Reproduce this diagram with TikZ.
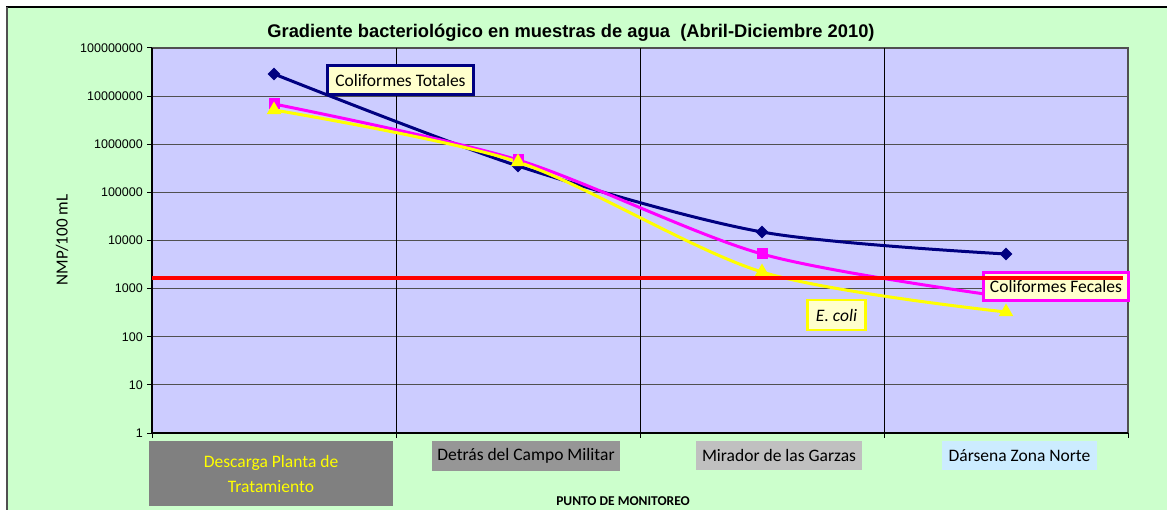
\documentclass[tikz,border=0pt]{standalone}
\usepackage{fontspec}
\setmainfont{Liberation Sans}
\newfontfamily\calibri{Carlito}
\usetikzlibrary{shapes.geometric}
\definecolor{bggreen}{HTML}{CCFFCC}
\definecolor{plotblue}{HTML}{CCCCFF}
\definecolor{navyc}{HTML}{000080}
\definecolor{magc}{HTML}{FF00FF}
\definecolor{yelc}{HTML}{FFFF00}
\definecolor{redc}{HTML}{FF0000}
\definecolor{lblyellow}{HTML}{FFFFCC}
\definecolor{gridgray}{HTML}{505050}
\definecolor{catA}{HTML}{808080}
\definecolor{catB}{HTML}{969696}
\definecolor{catC}{HTML}{C0C0C0}
\definecolor{catD}{HTML}{CCECFF}
\begin{document}
\begin{tikzpicture}[x=1pt,y=-1pt,
  hgrid/.style={gridgray, line width=1.2pt},
  vgrid/.style={black, line width=0.9pt},
  ylab/.style={anchor=east, inner sep=0pt, font=\fontsize{12.5}{14}\selectfont},
  series/.style={line width=3pt, smooth, tension=0.5},
  dmk/.style={diamond, fill=navyc, inner sep=0pt, minimum width=13pt, minimum height=13pt},
  smk/.style={rectangle, fill=magc, inner sep=0pt, minimum size=11pt},
  tmk/.style={regular polygon, regular polygon sides=3, fill=yelc, inner sep=0pt, minimum size=17pt},
  lbl/.style={fill=lblyellow, line width=2.6pt, inner sep=0pt, font=\calibri\fontsize{17.5}{20}\selectfont},
  cat/.style={inner sep=0pt, font=\calibri\fontsize{17.5}{25}\selectfont, align=center}
]
\useasboundingbox (0,0) rectangle (1167,510);
\fill[white] (0,0) rectangle (1167,510);
\fill[bggreen] (7,7) rectangle (1167,510);
\draw[black, line width=1.6pt] (6,7) -- (1167,7);
\draw[gridgray, line width=2pt] (7,7) -- (7,510);
% title
\node[font=\bfseries\fontsize{18.3}{21}\selectfont] (title) at (571,33) {Gradiente bacteriológico en muestras de agua \ (Abril-Diciembre 2010)};
% plot area
\fill[plotblue] (152,48) rectangle (1128,433);
\foreach \i in {1,...,7} \draw[hgrid] (152,{433-48.125*\i}) -- (1128,{433-48.125*\i});
\draw[hgrid] (152,48) -- (1128,48) -- (1128,433);
\foreach \x in {396,640,884} \draw[vgrid] (\x,48) -- (\x,433);
\draw[black, line width=1.2pt] (152,48) -- (152,433) -- (1128,433);
\foreach \i in {0,...,8} \draw[black, line width=1pt] (147,{433-48.125*\i}) -- (152,{433-48.125*\i});
\foreach \x in {152,396,640,884,1128} \draw[black, line width=1pt] (\x,433) -- (\x,438);
\foreach \v [count=\i from 0] in {1,10,100,1000,10000,100000,1000000,10000000,100000000}
  \node[ylab] (y\i) at (143,{433-48.125*\i}) {\v};
\node[rotate=90, font=\calibri\fontsize{17}{20}\selectfont] (ytitle) at (62,240) {NMP/100 mL};
% data coordinates
\coordinate (t1) at (274,74);  \coordinate (t2) at (518,166); \coordinate (t3) at (762,232); \coordinate (t4) at (1006,254);
\coordinate (f1) at (274,104); \coordinate (f2) at (518,160); \coordinate (f3) at (762,254); \coordinate (f4) at (1006,297);
\coordinate (e1) at (274,110); \coordinate (e2) at (518,162); \coordinate (e3) at (762,272); \coordinate (e4) at (1006,312);
\draw[series, navyc] plot coordinates {(t1) (t2) (t3) (t4)};
\draw[series, magc] plot coordinates {(f1) (f2) (f3) (f4)};
\draw[series, yelc] plot coordinates {(e1) (e2) (e3) (e4)};
\foreach \p in {t1,t2,t3,t4} \node[dmk] (m\p) at (\p) {};
\foreach \p in {f1,f2,f3,f4} \node[smk] (m\p) at (\p) {};
\foreach \p in {e1,e2,e3,e4} \node[tmk] (m\p) at (\p) {};
% series labels
\node[lbl, draw=navyc, minimum width=146pt, minimum height=29pt] (ltot) at (400.5,80) {Coliformes Totales};
\node[lbl, draw=magc, minimum width=145pt, minimum height=28pt] (lfec) at (1056,286.5) {Coliformes Fecales};
\node[lbl, draw=yelc, minimum width=58pt, minimum height=30pt] (lecoli) at (836.5,315) {\itshape E. coli};
% limit line
\draw[redc, line width=4pt] (152,278) coordinate (r0) -- (1123,278) coordinate (r1);
% categories
\node[cat, fill=catA, text=yelc, minimum width=244pt, minimum height=65pt] (c1) at (271,473.5) {Descarga Planta de\\Tratamiento};
\node[cat, fill=catB, minimum width=188pt, minimum height=30pt] (c2) at (526,456) {Detrás del Campo Militar};
\node[cat, fill=catC, minimum width=166pt, minimum height=29pt] (c3) at (779,455.5) {Mirador de las Garzas};
\node[cat, fill=catD, minimum width=155pt, minimum height=29pt] (c4) at (1019.5,455.5) {Dársena Zona Norte};
\node[font=\calibri\bfseries\fontsize{13.5}{15}\selectfont] (xtitle) at (623,501) {PUNTO DE MONITOREO};
\end{tikzpicture}
\end{document}
